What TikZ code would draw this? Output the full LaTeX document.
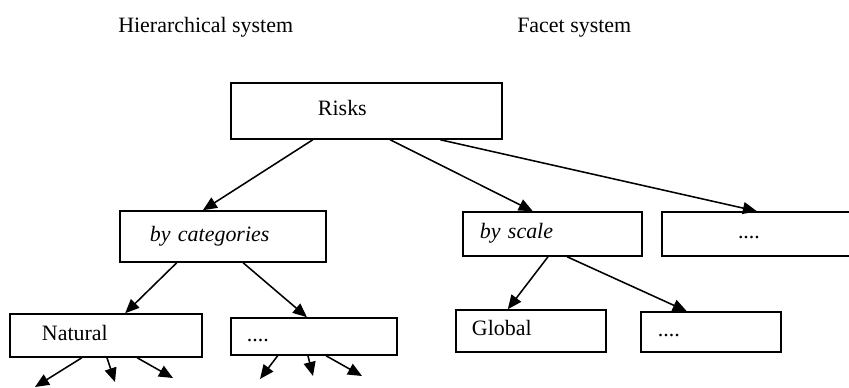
\documentclass[tikz,border=0pt]{standalone}
\usepackage{fontspec}
\setmainfont{Liberation Serif}
\usetikzlibrary{arrows.meta}
\usetikzlibrary{calc}

\begin{document}
\begin{tikzpicture}[x = 0.025cm, y = -0.025cm, font=\fontsize{15.6pt}{18pt}\selectfont]
	\tikzstyle{boxStyle}=[draw, line width = 1.1pt, inner xsep = 0pt, inner ysep = 0pt, align = left, text height = 0.8em, text depth = 0.1em]
	\tikzstyle{titleStyle}=[anchor = base west, inner sep = 0pt]
	\tikzstyle{arrowStyle}=[line width = 1.1pt, -{Triangle[length = 10pt, width = 8.5pt]}]
	\useasboundingbox (0, 0) rectangle (849, 388);
	\node[titleStyle] (hier) at (118, 32) {Hierarchical system};
	\node[titleStyle] (facet) at (517, 32) {Facet system};
	\node[boxStyle, text width = 6.775cm, minimum height = 1.4cm] (risks) at (366.5, 111) {\hspace*{2.175cm}Risks};
	\node[boxStyle, text width = 5.15cm, minimum height = 1.275cm] (cat) at (223, 236.5) {\hspace*{0.75cm}\textit{by categories}};
	\node[boxStyle, text width = 4.475cm, minimum height = 1.1cm] (scale) at (552.5, 234) {\hspace*{0.425cm}\textit{by scale}};
	\node[boxStyle, text width = 4.825cm, minimum height = 1.1cm] (facetmore) at (758.5, 234) {\hspace*{1.9cm}....};
	\node[boxStyle, text width = 4.8cm, minimum height = 1.075cm] (natural) at (106, 335.5) {\hspace*{0.8cm}Natural};
	\node[boxStyle, text width = 4.15cm, minimum height = 0.925cm] (hiermore) at (314, 336.5) {\hspace*{0.4cm}....};
	\node[boxStyle, text width = 3.75cm, minimum height = 1.05cm] (global) at (531, 331) {\hspace*{0.4cm}Global};
	\node[boxStyle, text width = 3.5cm, minimum height = 1.0cm] (scalemore) at (711, 332) {\hspace*{0.425cm}....};
	\coordinate (n1) at (35, 387);
	\coordinate (n2) at (115, 382);
	\coordinate (n3) at (173, 378);
	\coordinate (m1) at (260, 379);
	\coordinate (m2) at (313, 376);
	\coordinate (m3) at (362, 376);
	\draw[arrowStyle] ($(risks.south west)!.303!(risks.south east)$) -- ($(cat.north west)!.403!(cat.north east)$);
	\draw[arrowStyle] ($(risks.south west)!.587!(risks.south east)$) -- ($(scale.north west)!.391!(scale.north east)$);
	\draw[arrowStyle] ($(risks.south west)!.771!(risks.south east)$) -- ($(facetmore.north west)!.492!(facetmore.north east)$);
	\draw[arrowStyle] ($(cat.south west)!.277!(cat.south east)$) -- ($(natural.north west)!.599!(natural.north east)$);
	\draw[arrowStyle] ($(cat.south west)!.597!(cat.south east)$) -- ($(hiermore.north west)!.458!(hiermore.north east)$);
	\draw[arrowStyle] ($(scale.south west)!.475!(scale.south east)$) -- ($(global.north west)!.347!(global.north east)$);
	\draw[arrowStyle] ($(scale.south west)!.581!(scale.south east)$) -- ($(scalemore.north west)!.329!(scalemore.north east)$);
	\foreach \f/\t in {.375/n1, .505/n2, .661/n3}
		\draw[arrowStyle] ($(natural.south west)!\f!(natural.south east)$) -- (\t);
	\foreach \f/\t in {.283/m1, .464/m2, .572/m3}
		\draw[arrowStyle] ($(hiermore.south west)!\f!(hiermore.south east)$) -- (\t);
\end{tikzpicture}
\end{document}
